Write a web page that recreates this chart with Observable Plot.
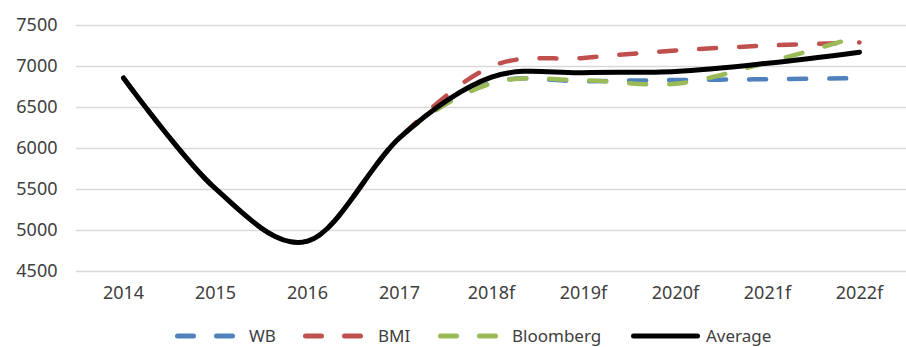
<!DOCTYPE html>
<html>
<head>
<meta charset="utf-8">
<script src="https://cdn.jsdelivr.net/npm/d3@7"></script>
<script src="https://cdn.jsdelivr.net/npm/@observablehq/plot@0.6"></script>
<style>
  html, body { margin: 0; padding: 0; background: #fff; }
  body { width: 906px; height: 347px; overflow: hidden; font-family: "Noto Sans", sans-serif; position: relative; }
  #legend { position: absolute; left: 0; top: 325px; width: 906px; height: 22px; font-size: 17px; color: #404040; }
  .item { position: absolute; top: 0; height: 22px; display: flex; align-items: center; line-height: 22px; white-space: nowrap; }
  .item svg { flex: none; }
</style>
</head>
<body>
<div id="chart"></div>
<div id="legend"></div>
<script>
const categories = ["2014", "2015", "2016", "2017", "2018f", "2019f", "2020f", "2021f", "2022f"];
const wb        = [6860, 5510, 4870, 6130, 6800, 6820, 6835, 6845, 6857];
const bmi       = [6860, 5510, 4870, 6130, 7000, 7105, 7195, 7255, 7293];
const bloomberg = [6860, 5510, 4870, 6130, 6795, 6830, 6790, 7050, 7370];
const average   = [6860, 5510, 4870, 6130, 6870, 6925, 6940, 7040, 7175];
const yTicks = [4500, 5000, 5500, 6000, 6500, 7000, 7500];

const seriesDefs = [
  {name: "WB", values: wb, color: "#4f81bd", dashed: true},
  {name: "BMI", values: bmi, color: "#c0504d", dashed: true},
  {name: "Bloomberg", values: bloomberg, color: "#9bbb59", dashed: true},
  {name: "Average", values: average, color: "#000000", dashed: false}
];
// legend layout (pixel left edge of each sample and gap to its text)
const legendLeft = [175, 303, 438, 631];
const legendSampleW = [62, 63, 61, 69];
const legendTextGap = [12, 12, 13, 6];

const lineMarks = seriesDefs.map(s => Plot.line(
  categories.map((c, i) => ({cat: c, v: s.values[i]})),
  {x: "cat", y: "v", stroke: s.color, strokeWidth: s.dashed ? 4.5 : 5,
   strokeDasharray: s.dashed ? "17 23" : null, strokeLinecap: "round",
   curve: "cardinal"}
));

const chart = Plot.plot({
  width: 906,
  height: 310,
  marginTop: 25,
  marginBottom: 39,
  marginLeft: 76,
  marginRight: 0,
  style: {fontFamily: "'Noto Sans', sans-serif", fontSize: "18px", color: "#404040", background: "#fff"},
  x: {type: "point", domain: categories, padding: 0.5, label: null},
  y: {domain: [4500, 7500], label: null},
  marks: [
    Plot.gridY(yTicks, {stroke: "#d9d9d9", strokeOpacity: 1, strokeWidth: 1.5}),
    Plot.axisY(yTicks, {tickSize: 0, tickPadding: 19, label: null, fill: "#404040", tickFormat: d => String(d)}),
    Plot.axisX({tickSize: 0, tickPadding: 15, label: null, fill: "#404040"}),
    ...lineMarks
  ]
});
document.getElementById("chart").appendChild(chart);

const legend = document.getElementById("legend");
seriesDefs.forEach((s, i) => {
  const item = document.createElement("div");
  item.className = "item";
  item.style.left = legendLeft[i] + "px";
  const w = legendSampleW[i];
  const dash = s.dashed
    ? `<line x1="2.5" y1="5" x2="${w - 2.5}" y2="5" stroke="${s.color}" stroke-width="5" stroke-linecap="round" stroke-dasharray="16 23"/>`
    : `<line x1="2.5" y1="5" x2="${w - 2.5}" y2="5" stroke="${s.color}" stroke-width="5" stroke-linecap="round"/>`;
  item.innerHTML = `<svg width="${w}" height="10" style="margin-right:${legendTextGap[i]}px">${dash}</svg><span>${s.name}</span>`;
  legend.appendChild(item);
});
</script>
</body>
</html>
